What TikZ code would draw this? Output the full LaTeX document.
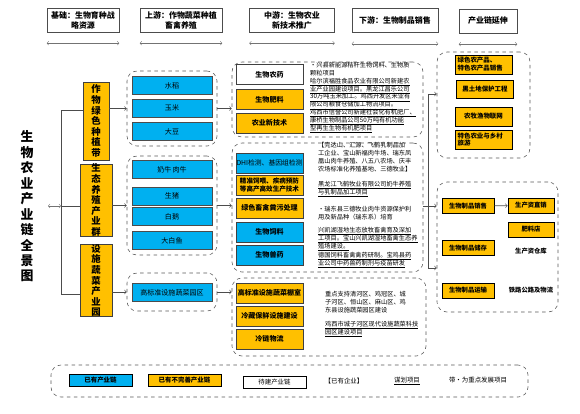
\documentclass[tikz,border=0pt]{standalone}
\usepackage{xcolor}
\usepackage{fontspec}
\setmainfont{Noto Sans CJK SC}
\usepackage{tikz}
\usetikzlibrary{shapes,arrows,positioning}
\definecolor{chainblue}{RGB}{0,176,240}
\definecolor{chainorange}{RGB}{255,192,0}
\newcommand{\notefont}{\fontsize{5.3}{6.7}\selectfont\setlength{\lineskiplimit}{-10pt}}

\begin{document}
\begin{tikzpicture}[x=0.03cm,y=-0.03cm,
    hdr/.style={draw=black!70,fill=white,align=center,inner sep=1pt,minimum height=0.72cm,font=\fontsize{6.8}{8.5}\selectfont\bfseries},
    hdrarrow/.style={<->,draw=black!55,thin},
    belt/.style={draw=black!75,fill=chainorange,align=center,inner sep=0pt,font=\fontsize{8}{9}\selectfont\bfseries},
    have/.style={draw=black!70,fill=chainblue,minimum width=2.4cm,minimum height=0.54cm,inner sep=0pt,font=\fontsize{6}{7}\selectfont},
    tech/.style={draw=black!75,minimum width=2.01cm,minimum height=0.6cm,inner sep=0pt,align=center,font=\fontsize{6}{7}\selectfont\bfseries},
    group/.style={draw=black!65,dashed,rounded corners=0.3cm,line width=0.5pt,inner sep=0pt},
    note/.style={anchor=north west,inner sep=0pt,align=left,font=\notefont},
    link/.style={->,draw=black!70,line width=0.5pt},
    ext/.style={draw=black,line width=0.7pt,fill=chainorange,text width=1.55cm,inner xsep=0.08cm,inner ysep=0pt,font=\fontsize{5.5}{6.8}\selectfont\bfseries},
    prod/.style={draw=black,line width=0.7pt,fill=chainorange,minimum height=0.45cm,inner sep=0pt,font=\fontsize{5.4}{6.5}\selectfont\bfseries},
    keybox/.style={draw=black,line width=0.8pt,inner sep=0pt,font=\fontsize{5.5}{6.5}\selectfont\bfseries},
    keytext/.style={inner sep=0pt,font=\fontsize{5.5}{6.5}\selectfont}]
    \useasboundingbox (0,0) rectangle (580,413);

    % headers
    \node[hdr,minimum width=2.16cm] (h1) at (83,20) {基础：生物育种战\\略资源};
    \node[hdr,minimum width=2.46cm] (h2) at (181,20) {上游：作物蔬菜种植\\畜禽养殖};
    \node[hdr,minimum width=2.55cm] (h3) at (292,20) {中游：生物农业\\新技术推广};
    \node[hdr,minimum width=2.58cm] (h4) at (395,20.5) {下游：生物制品销售};
    \node[hdr,minimum width=1.74cm] (h5) at (488,21) {产业链延伸};
    \foreach \h in {h1,h2,h3,h4,h5}
        \draw[hdrarrow] ([yshift=-0.33cm]\h.south west) -- ([yshift=-0.33cm]\h.south east);

    % title and base belts
    \node[inner sep=0pt,align=center,font=\fontsize{11}{13.2}\selectfont\bfseries] (title) at (27,206.5)
        {生\\物\\农\\业\\产\\业\\链\\全\\景\\图};
    \node[belt,minimum width=0.78cm,minimum height=2.34cm] (ta) at (96,121) {作\\物\\绿\\色\\种\\植\\带};
    \node[belt,minimum width=0.96cm,minimum height=2.1cm] (tb) at (96,200) {生\\态\\养\\殖\\产\\业\\群};
    \node[belt,minimum width=0.96cm,minimum height=2.13cm] (tc) at (96,280.5) {设\\施\\蔬\\菜\\产\\业\\园};
    \coordinate (tl) at (48,206);
    \coordinate (sp1) at (61,110);
    \coordinate (sp2) at (61,206);
    \coordinate (sp3) at (61,294);
    \draw[black!70,line width=0.5pt] (sp1 -| ta.west) -- (sp1) -- (sp3) -- (sp3 -| tc.west);
    \draw[black!70,line width=0.5pt] (sp2) -- (sp2 -| tb.west);
    \draw[hdrarrow] (tl) -- (sp2);

    % upstream groups
    \node[group,minimum width=2.7cm,minimum height=2.25cm] (g1) at (172,108.5) {};
    \node[group,minimum width=2.7cm,minimum height=2.97cm] (g2) at (172,205.5) {};
    \node[group,minimum width=2.7cm,minimum height=1.14cm] (g3) at (172,292) {};
    \node[have] (u1) at (172,85.5) {水稻};
    \node[have] (u2) at (172,108) {玉米};
    \node[have] (u3) at (172,131.5) {大豆};
    \node[have] (u4) at (172,169.5) {奶牛\,肉牛};
    \node[have] (u5) at (172,196) {生猪};
    \node[have] (u6) at (172,216.5) {白鹅};
    \node[have] (u7) at (172,240.5) {大白鱼};
    \node[have] (u8) at (172,292.5) {高标准设施蔬菜园区};
    \draw[link] (ta.east |- g1.west) -- (g1.west);
    \draw[link] (tb.east |- g2.west) -- (g2.west);
    \draw[link] (tc.east |- g3.west) -- (g3.west);

    % midstream groups
    \node[group,minimum width=5.73cm,minimum height=2.25cm] (m1) at (327.5,99.5) {};
    \node[group,minimum width=5.73cm,minimum height=3.87cm] (m2) at (327.5,207.5) {};
    \node[group,minimum width=5.82cm,minimum height=2.34cm] (m3) at (329,317) {};
    \node[tech,fill=white] (t1) at (269.5,74.5) {生物农药};
    \node[tech,fill=chainorange] (t2) at (269.5,99.5) {生物肥料};
    \node[tech,fill=chainorange] (t3) at (269.5,123) {农业新技术};
    \node[tech,fill=chainblue,font=\fontsize{5.8}{7}\selectfont] (t4) at (269.5,163) {DHI检测、基因组检测};
    \node[tech,fill=chainorange,font=\fontsize{5.6}{6.4}\selectfont\bfseries] (t5) at (269.5,185) {精准饲喂、疾病预防\\等高产高效生产技术};
    \node[tech,fill=chainorange] (t6) at (269.5,208) {绿色畜禽粪污处理};
    \node[tech,fill=chainblue] (t7) at (269.5,232) {生物饲料};
    \node[tech,fill=chainblue] (t8) at (269.5,255) {生物兽药};
    \node[tech,fill=chainorange] (t9) at (269.5,293) {高标准设施蔬菜棚室};
    \node[tech,fill=chainorange] (t10) at (269.5,316) {冷藏保鲜设施建设};
    \node[tech,fill=chainorange] (t11) at (269.5,339) {冷链物流};
    \node[note] (n1) at (310,62) {•兴县新能源秸秆生物饲料、生物质\\颗粒项目\\
        \underline{哈尔滨福胜食品农业有限公司新建农}\\\underline{业产业园建设项目。黑龙江昌乐公司}\\
        \underline{30万吨玉米加工。鸡西开发区米业有}\\\underline{限公司粮食仓储加工物流项目。}\\
        \underline{鸡西市信誉公司新建社会化有机肥厂、}\\\underline{康桥生物制品公司50万吨有机功能}\\
        \underline{型再生生物有机肥项目}};
    \node[note] (n2) at (318,142) {【完达山、汇源、飞鹤乳制品加\\工企业、宝山新福肉牛场、瑞东凤\\凰山肉牛养殖、八五八农场、庆丰\\农场标准化养殖基地、三德牧业】};
    \node[note] (n3) at (318,181) {\underline{黑龙江飞鹤牧业有限公司奶牛养殖}\\\underline{与乳制品加工项目}};
    \node[note] (n4) at (318,206) {•瑞东县三德牧业肉牛资源保护利\\用及新品种（瑞东系）培育};
    \node[note] (n5) at (318,227) {\underline{兴凯湖湿地生态放牧畜禽育及深加}\\\underline{工项目。宝山兴凯湖湿地畜禽生态养}\\\underline{殖场建设。}};
    \node[note] (n6) at (318,252) {\underline{德国饲料畜禽禽药研制。宝鸡县药}\\\underline{业公司中药兽药制剂与疫苗研发}};
    \node[note] (n7) at (325,291) {重点支持清河区、鸡冠区、城\\子河区、恒山区、麻山区、鸡\\东县设施蔬菜园区建设};
    \node[note] (n8) at (325,321) {\underline{鸡西市城子河区现代设施蔬菜科技}\\\underline{园区建设项目}};
    \draw[link] (g1.east) -- (g1.east -| m1.west);
    \draw[link] (g2.east) -- (g2.east -| m2.west);
    \draw[link] (g3.east) -- (g3.east -| m3.west);

    % extension and sales
    \node[group,minimum width=2.79cm,minimum height=3.18cm] (rt) at (483.5,105) {};
    \node[group,minimum width=3.63cm,minimum height=3.9cm] (rb) at (497.5,247) {};
    \node[ext,align=left,minimum height=0.57cm] (r1) at (483.5,64.5) {绿色农产品、\\特色农产品销售};
    \node[ext,align=center,minimum height=0.54cm] (r2) at (485,89) {黑土地保护工程};
    \node[ext,align=center,minimum height=0.57cm] (r3) at (483.5,116.5) {农牧渔物联网};
    \node[ext,align=left,minimum height=0.57cm] (r4) at (483.5,139.5) {特色农业与乡村\\旅游};
    \node[prod,minimum width=1.56cm] (s1) at (468,206) {生物制品销售};
    \node[prod,minimum width=1.38cm] (s2) at (531,205.5) {生产资直销};
    \node[prod,minimum width=1.38cm] (s3) at (531,229.5) {肥料店};
    \node[prod,minimum width=1.56cm] (s4) at (468,248) {生物制品储存};
    \node[prod,minimum width=1.56cm] (s5) at (468,290.5) {生物制品运输};
    \node[inner sep=0pt,font=\fontsize{5.4}{6.5}\selectfont\bfseries] (w1) at (531,251) {生产资仓库};
    \node[inner sep=0pt,font=\fontsize{5.4}{6.5}\selectfont\bfseries] (w2) at (531,290) {铁路公路及物流};
    \draw[link] (s1) -- (s2);
    \draw[link] (m2.east |- s1) -- (rb.west |- s1);
    \coordinate (vt) at (428,94);
    \coordinate (vb) at (428,268);
    \draw[<->,draw=black!70,line width=0.5pt] (vt -| rt.west) -- (vt) -- (vb) -- (vb -| rb.west);

    % legend
    \node[group,minimum width=14.31cm,minimum height=0.96cm] (lg) at (289.5,381) {};
    \node[keybox,fill=chainblue,minimum width=1.89cm,minimum height=0.38cm] (k1) at (100.5,380.5) {已有产业链};
    \node[keybox,fill=chainorange,minimum width=2.19cm,minimum height=0.38cm] (k2) at (184.5,380.5) {已有不完善产业链};
    \node[keybox,fill=white,minimum width=1.89cm,minimum height=0.36cm,font=\fontsize{5.5}{6.5}\selectfont] (k3) at (274.5,382) {待建产业链};
    \node[keytext] (k4) at (344,381) {【已有企业】};
    \node[keytext] (k5) at (407,381) {\underline{谋划项目}};
    \node[keytext] (k6) at (478,380) {带•为重点发展项目};
\end{tikzpicture}
\end{document}
